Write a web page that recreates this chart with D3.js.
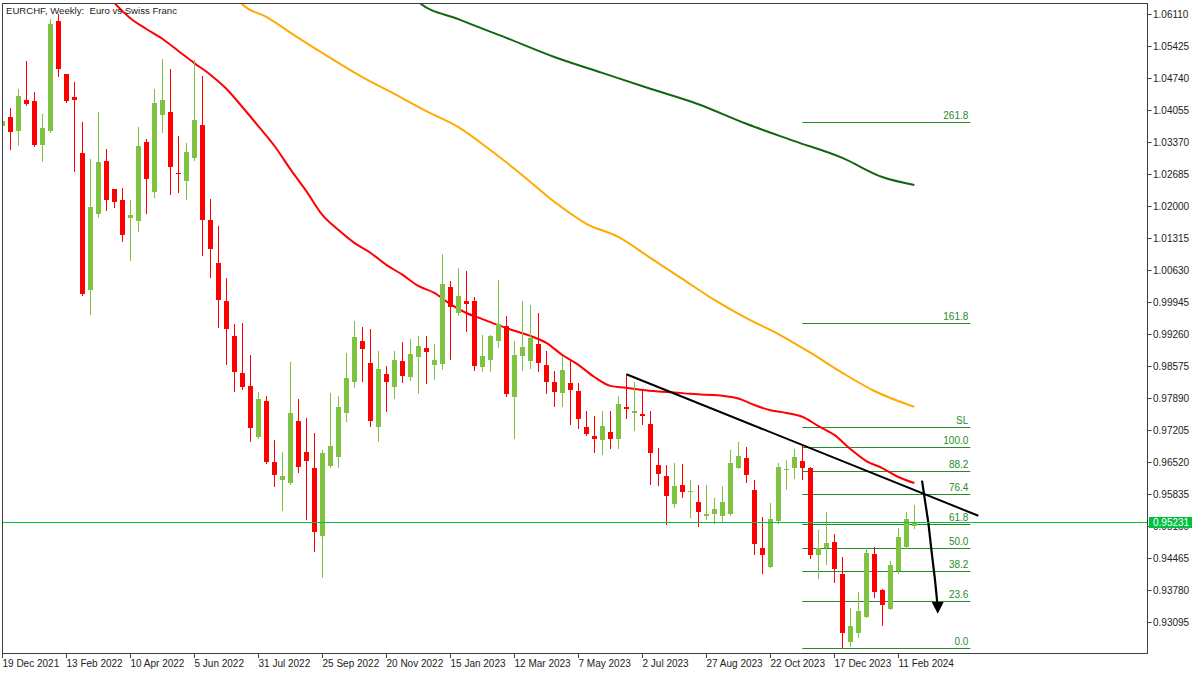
<!DOCTYPE html>
<html><head><meta charset="utf-8">
<script src="https://cdn.jsdelivr.net/npm/d3@7"></script>
<style>body{margin:0;background:#fff;} svg{display:block;font-family:"Liberation Sans",Arial,sans-serif;}</style>
</head><body><svg id="c" width="1200" height="675"></svg>
<script>
const title = "EURCHF, Weekly:  Euro vs Swiss Franc";
const firstWeek = "19 Dec 2021";

const open = [
1.0371,1.0391,1.0361,1.0427,1.0425,1.0331,1.0361,1.0596,1.0483,1.0433,
1.0314,1.0020,1.0183,1.0296,1.0237,1.0213,1.0174,1.0168,1.0337,1.0230,
1.0395,1.0401,1.0271,1.0254,1.0303,1.0374,1.0170,1.0078,0.9997,0.9922,
0.9843,0.9815,0.9705,0.9783,0.9652,0.9614,0.9607,0.9740,0.9674,0.9639,
0.9494,0.9644,0.9663,0.9756,0.9824,0.9911,0.9864,0.9727,0.9841,0.9812,
0.9868,0.9834,0.9877,0.9896,0.9860,0.9862,1.0027,0.9970,0.9997,0.9997,
0.9856,0.9871,0.9912,0.9943,0.9792,0.9878,0.9869,0.9905,0.9860,0.9824,
0.9799,0.9821,0.9804,0.9727,0.9708,0.9699,0.9717,0.9702,0.9770,0.9758,
0.9754,0.9734,0.9646,0.9622,0.9562,0.9603,0.9587,0.9567,0.9537,0.9540,
0.9537,0.9540,0.9640,0.9661,0.9592,0.9468,0.9428,0.9525,0.9636,0.9640,
0.9654,0.9640,0.9454,0.9467,0.9481,0.9413,0.9266,0.9285,0.9321,0.9455,
0.9378,0.9338,0.9418,0.9470,0.9514];
const high = [
1.0395,1.0410,1.0451,1.0510,1.0444,1.0397,1.0600,1.0611,1.0483,1.0466,
1.0380,1.0301,1.0401,1.0322,1.0237,1.0239,1.0213,1.0369,1.0344,1.0451,
1.0515,1.0493,1.0350,1.0335,1.0513,1.0478,1.0215,1.0157,1.0046,0.9948,
0.9950,0.9881,0.9802,0.9794,0.9699,0.9674,0.9866,0.9787,0.9746,0.9714,
0.9678,0.9800,0.9794,0.9886,0.9954,0.9941,0.9937,0.9890,0.9858,0.9890,
0.9909,0.9916,0.9922,0.9922,0.9905,1.0097,1.0040,1.0067,1.0061,1.0005,
0.9924,0.9924,1.0042,0.9965,0.9912,0.9997,0.9988,0.9971,0.9890,0.9847,
0.9880,0.9871,0.9821,0.9762,0.9751,0.9762,0.9762,0.9794,0.9839,0.9824,
0.9806,0.9762,0.9682,0.9646,0.9650,0.9648,0.9614,0.9603,0.9603,0.9575,
0.9600,0.9678,0.9694,0.9684,0.9614,0.9535,0.9565,0.9650,0.9657,0.9680,
0.9687,0.9641,0.9507,0.9545,0.9499,0.9449,0.9340,0.9373,0.9469,0.9471,
0.9381,0.9441,0.9511,0.9544,0.9559];
const low = [
1.0363,1.0322,1.0331,1.0416,1.0329,1.0296,1.0359,1.0478,1.0423,1.0275,
1.0010,0.9969,1.0177,1.0192,1.0198,1.0125,1.0085,1.0147,1.0185,1.0219,
1.0359,1.0226,1.0230,1.0215,1.0299,1.0095,1.0048,0.9941,0.9862,0.9804,
0.9809,0.9697,0.9703,0.9650,0.9601,0.9550,0.9606,0.9631,0.9531,0.9462,
0.9405,0.9641,0.9642,0.9740,0.9812,0.9826,0.9729,0.9697,0.9761,0.9788,
0.9824,0.9828,0.9799,0.9821,0.9830,0.9851,0.9873,0.9967,0.9933,0.9848,
0.9846,0.9846,0.9899,0.9794,0.9704,0.9849,0.9854,0.9846,0.9799,0.9771,
0.9773,0.9734,0.9724,0.9709,0.9674,0.9670,0.9681,0.9683,0.9747,0.9721,
0.9734,0.9606,0.9602,0.9520,0.9555,0.9578,0.9534,0.9514,0.9529,0.9522,
0.9525,0.9539,0.9639,0.9610,0.9456,0.9415,0.9427,0.9522,0.9595,0.9617,
0.9616,0.9447,0.9403,0.9433,0.9396,0.9255,0.9258,0.9277,0.9320,0.9363,
0.9304,0.9337,0.9414,0.9469,0.9510];
const close = [
1.0382,1.0359,1.0436,1.0418,1.0331,1.0367,1.0590,1.0493,1.0425,1.0427,
1.0012,1.0198,1.0294,1.0213,1.0209,1.0138,1.0181,1.0329,1.0258,1.0421,
1.0427,1.0284,1.0269,1.0316,1.0384,1.0170,1.0108,0.9999,0.9937,0.9844,
0.9812,0.9724,0.9787,0.9651,0.9625,0.9622,0.9757,0.9642,0.9654,0.9503,
0.9672,0.9687,0.9770,0.9832,0.9920,0.9895,0.9740,0.9851,0.9824,0.9871,
0.9836,0.9883,0.9901,0.9888,0.9871,1.0033,0.9984,1.0008,0.9991,0.9858,
0.9879,0.9922,0.9948,0.9798,0.9881,0.9898,0.9918,0.9865,0.9824,0.9801,
0.9849,0.9807,0.9745,0.9713,0.9702,0.9729,0.9702,0.9776,0.9766,0.9762,
0.9750,0.9672,0.9627,0.9580,0.9601,0.9588,0.9590,0.9544,0.9541,0.9552,
0.9567,0.9650,0.9665,0.9625,0.9477,0.9452,0.9530,0.9642,0.9638,0.9663,
0.9640,0.9454,0.9469,0.9479,0.9422,0.9285,0.9301,0.9333,0.9458,0.9373,
0.9347,0.9432,0.9492,0.9530,0.95231];

// moving averages: [bar index, price]
const maRed = [[13,1.0655],[14,1.0635],[16,1.0602],[18,1.0579],[20,1.0558],[22,1.0532],[24,1.0506],[26,1.0481],[28,1.0451],[30,1.0412],[32,1.0371],[34,1.0329],[36,1.0279],[38,1.0232],[40,1.0181],[42,1.0149],[44,1.0121],[46,1.0100],[48,1.0074],[50,1.0053],[52,1.0029],[54,1.0014],[56,0.9990],[58,0.9971],[60,0.9958],[62,0.9945],[64,0.9933],[66,0.9922],[68,0.9907],[70,0.9881],[72,0.9860],[74,0.9834],[76,0.9815],[78,0.9811],[80,0.9806],[82,0.9803],[84,0.9801],[86,0.9798],[88,0.9796],[90,0.9794],[92,0.9788],[94,0.9774],[96,0.9763],[98,0.9757],[100,0.9749],[102,0.9729],[104,0.9710],[106,0.9680],[108,0.9654],[110,0.9639],[112,0.9620],[114,0.9607]];
const maOrange = [[29,1.0655],[30,1.0632],[33,1.0605],[37,1.0560],[41,1.0517],[45,1.0476],[49,1.0440],[53,1.0403],[57,1.0369],[61,1.0320],[65,1.0266],[69,1.0209],[73,1.0162],[77,1.0134],[81,1.0089],[85,1.0044],[89,0.9999],[93,0.9960],[97,0.9926],[101,0.9886],[105,0.9843],[109,0.9804],[114,0.9770]];
const maGreen = [[51,1.0655],[52,1.0637],[57,1.0600],[63,1.0560],[69,1.0519],[75,1.0485],[81,1.0451],[87,1.0418],[93,1.0376],[99,1.0339],[105,1.0303],[110,1.0262],[114,1.0245]];

const yTickLabels = ["1.06110","1.05425","1.04740","1.04055","1.03370","1.02685","1.02000","1.01315","1.00630","0.99945","0.99260","0.98575","0.97890","0.97205","0.96520","0.95835","0.95150","0.94465","0.93780","0.93095"];
const xTickLabels = ["19 Dec 2021","13 Feb 2022","10 Apr 2022","5 Jun 2022","31 Jul 2022","25 Sep 2022","20 Nov 2022","15 Jan 2023","12 Mar 2023","7 May 2023","2 Jul 2023","27 Aug 2023","22 Oct 2023","17 Dec 2023","11 Feb 2024"];

const fibLevels = [0, 23.6, 38.2, 50, 61.8, 76.4, 88.2, 100, 161.8, 261.8];
const fibLabels = ["0.0","23.6","38.2","50.0","61.8","76.4","88.2","100.0","161.8","261.8"];
const fibSL = 110;
const fibHigh = 0.9684, fibLow = 0.9254, fibFrom = 100, fibTo = 121;

const trendLine = [[78, 0.9840], [122, 0.9537]];
const arrowPath = [[114.96,0.9612],[115.21,0.9583],[115.75,0.9522],[116.17,0.9458],[116.58,0.9400],[116.87,0.9350]];
const arrowTip = [116.92, 0.9327];
const lastPrice = 0.95231;

// ---------- drawing ----------
const L = 2, T = 3, R = 1147, B = 653;
const svg = d3.select("#c");
const x = d3.scaleLinear().domain([-0.04, 143.08]).range([L, R]);
const y = d3.scaleLinear().domain([0.92432, 1.06346]).range([B, T]);

svg.append("defs").append("clipPath").attr("id","clip")
  .append("rect").attr("x", L).attr("y", T).attr("width", R - L).attr("height", B - T);
const plot = svg.append("g").attr("clip-path","url(#clip)");

const fontSize = 10, txtCol = "#222";

// title
svg.append("text").attr("x", 6).attr("y", 14).attr("font-size", 9.6).attr("fill", txtCol)
  .style("white-space","pre").text(title);

// fibonacci
const fibCol = "#2a8a2a";
const fibY = lv => y(fibLow + (fibHigh - fibLow) * lv / 100);
const fibAll = fibLevels.map((lv, k) => ({lv, lab: fibLabels[k]})).concat([{lv: fibSL, lab: "SL"}]);
const fg = plot.append("g");
fg.selectAll("line").data(fibAll).join("line")
  .attr("x1", x(fibFrom)).attr("x2", x(fibTo))
  .attr("y1", d => Math.round(fibY(d.lv)) + 0.5).attr("y2", d => Math.round(fibY(d.lv)) + 0.5)
  .attr("stroke", fibCol).attr("stroke-width", 1);
fg.selectAll("text").data(fibAll).join("text")
  .attr("x", x(fibTo) - 2).attr("y", d => Math.round(fibY(d.lv)) - 3)
  .attr("text-anchor","end").attr("font-size", fontSize).attr("fill", fibCol).text(d => d.lab);

// moving averages
const line = d3.line().x(d => x(d[0])).y(d => y(d[1])).curve(d3.curveMonotoneX);
[[maGreen,"#116611"],[maOrange,"#ffaa00"],[maRed,"#ff0000"]].forEach(([data, col]) => {
  plot.append("path").attr("d", line(data)).attr("fill","none").attr("stroke", col).attr("stroke-width", 2);
});

// candles
const bull = "#80c342", bear = "#ff0000";
const bars = d3.range(open.length).map(i => ({i, o: open[i], h: high[i], l: low[i], c: close[i]}));
const cg = plot.append("g").attr("shape-rendering","crispEdges");
cg.selectAll("line").data(bars).join("line")
  .attr("x1", d => Math.round(x(d.i)) + 0.5).attr("x2", d => Math.round(x(d.i)) + 0.5)
  .attr("y1", d => Math.round(y(d.h))).attr("y2", d => Math.round(y(d.l)) + 1)
  .attr("stroke", d => d.c >= d.o ? bull : bear).attr("stroke-width", 1);
cg.selectAll("rect").data(bars).join("rect")
  .attr("x", d => Math.round(x(d.i)) - 2).attr("width", 5)
  .attr("y", d => Math.round(y(Math.max(d.o, d.c))))
  .attr("height", d => Math.max(1, Math.round(y(Math.min(d.o, d.c))) - Math.round(y(Math.max(d.o, d.c)))))
  .attr("fill", d => d.c >= d.o ? bull : bear);

// trend line
plot.append("line").attr("x1", x(trendLine[0][0])).attr("y1", y(trendLine[0][1]))
  .attr("x2", x(trendLine[1][0])).attr("y2", y(trendLine[1][1]))
  .attr("stroke","#000").attr("stroke-width", 2);

// arrow
plot.append("path").attr("d", d3.line().x(d => x(d[0])).y(d => y(d[1]))(arrowPath))
  .attr("fill","none").attr("stroke","#000").attr("stroke-width", 2.2);
const ae = arrowPath[arrowPath.length - 1];
const tx = x(arrowTip[0]), ty = y(arrowTip[1]), by = y(ae[1]) - 1;
plot.append("path").attr("d", `M${tx - 6},${by}L${tx + 6},${by}L${tx},${ty}Z`).attr("fill","#000");

// current price line
plot.append("line").attr("x1", L).attr("x2", R)
  .attr("y1", Math.round(y(lastPrice)) + 0.5).attr("y2", Math.round(y(lastPrice)) + 0.5)
  .attr("stroke","#00c040").attr("stroke-width", 1);

// frame
svg.append("rect").attr("x", L + 0.5).attr("y", T + 0.5).attr("width", R - L).attr("height", B - T)
  .attr("fill","none").attr("stroke","#3a3f44").attr("stroke-width", 1);

// y axis
const yg = svg.append("g");
yTickLabels.forEach(s => {
  const v = +s, yy = Math.round(y(v)) + 0.5;
  yg.append("line").attr("x1", R + 0.5).attr("x2", R + 4.5).attr("y1", yy).attr("y2", yy).attr("stroke","#3a3f44");
  yg.append("text").attr("x", R + 6).attr("y", yy).attr("dy","0.35em").attr("font-size", fontSize)
    .attr("fill", txtCol).text(s);
});
// price tag (covers the 0.95150 label as in the reference)
const py = Math.round(y(lastPrice));
svg.append("rect").attr("x", R + 2).attr("y", py - 5).attr("width", 43).attr("height", 11).attr("fill","#00c040");
svg.append("text").attr("x", R + 6).attr("y", py + 0.5).attr("dy","0.35em").attr("font-size", fontSize)
  .attr("fill","#fff").text(lastPrice.toFixed(5));

// x axis
const parse = d3.utcParse("%d %b %Y");
const t0 = parse(firstWeek);
const xg = svg.append("g");
xTickLabels.forEach(s => {
  const idx = Math.round((parse(s) - t0) / (7 * 864e5));
  const xx = Math.round(x(idx)) + 0.5;
  xg.append("line").attr("x1", xx).attr("x2", xx).attr("y1", B + 0.5).attr("y2", B + 5).attr("stroke","#3a3f44");
  xg.append("text").attr("x", xx).attr("y", B + 14).attr("font-size", fontSize).attr("fill", txtCol).text(s);
});
</script></body></html>
